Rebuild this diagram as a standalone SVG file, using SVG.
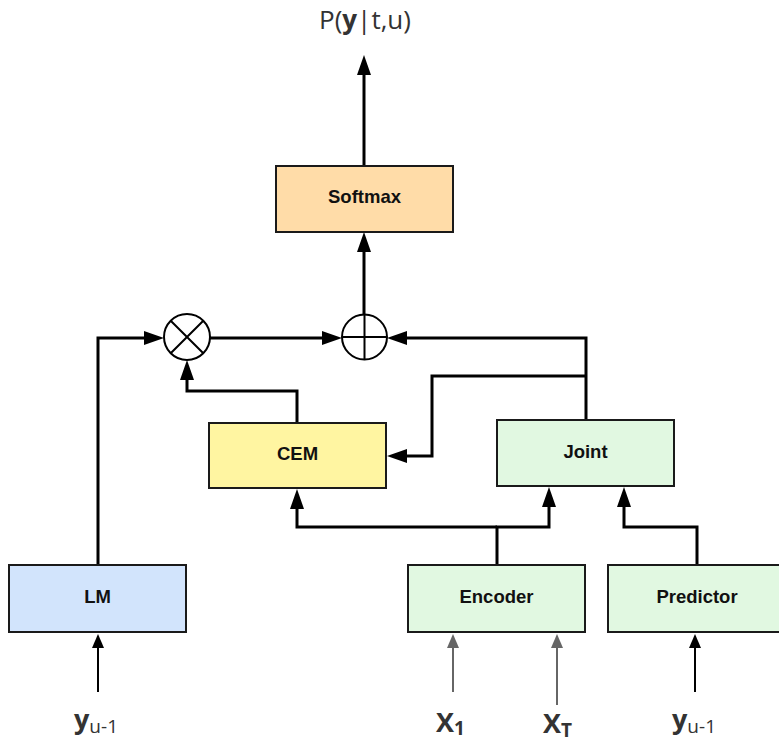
<svg xmlns="http://www.w3.org/2000/svg" width="779" height="742" viewBox="0 0 779 742">
<style>
.box{stroke:#1a1a1a;stroke-width:2}
.lbl{font-family:"Liberation Sans",Arial,sans-serif;font-weight:bold;font-size:18.5px;fill:#111;text-anchor:middle}
.ext{font-family:"Open Sans","Liberation Sans",sans-serif;fill:#333}
.c{fill:none;stroke:#000;stroke-width:3}
.t{fill:none;stroke:#000;stroke-width:2}
.g{fill:none;stroke:#666;stroke-width:2}
.op{fill:#fff;stroke:#000;stroke-width:2}
</style>
<defs>
<marker id="ah" markerUnits="userSpaceOnUse" viewBox="0 0 20 14" markerWidth="20" markerHeight="14" refX="2" refY="7" orient="auto">
<path d="M0,0 L20,7 L0,14 z" fill="#000"/>
</marker>
<marker id="as" markerUnits="userSpaceOnUse" viewBox="0 0 14 12" markerWidth="14" markerHeight="12" refX="2" refY="6" orient="auto">
<path d="M0,0 L14,6 L0,12 z" fill="#000"/>
</marker>
<marker id="ag" markerUnits="userSpaceOnUse" viewBox="0 0 14 12" markerWidth="14" markerHeight="12" refX="2" refY="6" orient="auto">
<path d="M0,0 L14,6 L0,12 z" fill="#666"/>
</marker>
</defs>

<g id="connectors">
<path class="c" d="M364,166 V73" marker-end="url(#ah)"/>
<path class="c" d="M364,315 V250" marker-end="url(#ah)"/>
<path class="c" d="M98,565 V338 H146" marker-end="url(#ah)"/>
<path class="c" d="M210,338 H324" marker-end="url(#ah)"/>
<path class="c" d="M297,423 V391 H187 V378" marker-end="url(#ah)"/>
<path class="c" d="M586,420 V338 H405" marker-end="url(#ah)"/>
<path class="c" d="M586,376 H432 V456 H405" marker-end="url(#ah)"/>
<path class="c" d="M497,565 V527 H549 V505" marker-end="url(#ah)"/>
<path class="c" d="M497,527 H297 V507" marker-end="url(#ah)"/>
<path class="c" d="M697,565 V527 H624 V505" marker-end="url(#ah)"/>
<path class="t" d="M98,692 V646" marker-end="url(#as)"/>
<path class="g" d="M453,692 V646" marker-end="url(#ag)"/>
<path class="g" d="M557,705 V646" marker-end="url(#ag)"/>
<path class="t" d="M695,692 V646" marker-end="url(#as)"/>
</g>

<g id="softmax">
<rect class="box" x="276" y="166" width="177" height="66" fill="#ffdca8"/>
<text class="lbl" x="364.5" y="203">Softmax</text>
</g>
<g id="cem">
<rect class="box" x="209" y="423" width="177" height="65" fill="#fff5a1"/>
<text class="lbl" x="297.5" y="459.5">CEM</text>
</g>
<g id="joint">
<rect class="box" x="497" y="420" width="177" height="66" fill="#e1f8e1"/>
<text class="lbl" x="585.5" y="457.5">Joint</text>
</g>
<g id="lm">
<rect class="box" x="9" y="565" width="177" height="67" fill="#d2e4fc"/>
<text class="lbl" x="97.5" y="603">LM</text>
</g>
<g id="encoder">
<rect class="box" x="408" y="565" width="177" height="67" fill="#e1f8e1"/>
<text class="lbl" x="496.5" y="602.5">Encoder</text>
</g>
<g id="predictor">
<rect class="box" x="608" y="565" width="180" height="67" fill="#e1f8e1"/>
<text class="lbl" x="697" y="602.5">Predictor</text>
</g>
<g id="otimes">
<circle class="op" cx="187" cy="337" r="23"/>
<path d="M170.7,320.7 L203.3,353.3 M203.3,320.7 L170.7,353.3" stroke="#000" stroke-width="2"/>
</g>
<g id="oplus">
<circle class="op" cx="364.5" cy="337" r="22.5"/>
<path d="M342,337 H387 M364.5,314.5 V359.5" stroke="#000" stroke-width="2"/>
</g>

<g id="labels">
<text class="ext" x="365" y="29" font-size="26" text-anchor="middle">P(<tspan font-weight="bold">y</tspan>|t,u)</text>
<text class="ext" x="74" y="729" font-size="27"><tspan font-weight="bold">y</tspan><tspan font-size="19" dy="4">u-1</tspan></text>
<text class="ext" x="672" y="729" font-size="27"><tspan font-weight="bold">y</tspan><tspan font-size="19" dy="4">u-1</tspan></text>
<text class="ext" x="436" y="732" font-size="27" font-weight="bold">X<tspan font-size="19" dy="3">1</tspan></text>
<text class="ext" x="543" y="733" font-size="27" font-weight="bold">X<tspan font-size="19" dy="4">T</tspan></text>
</g>
</svg>
